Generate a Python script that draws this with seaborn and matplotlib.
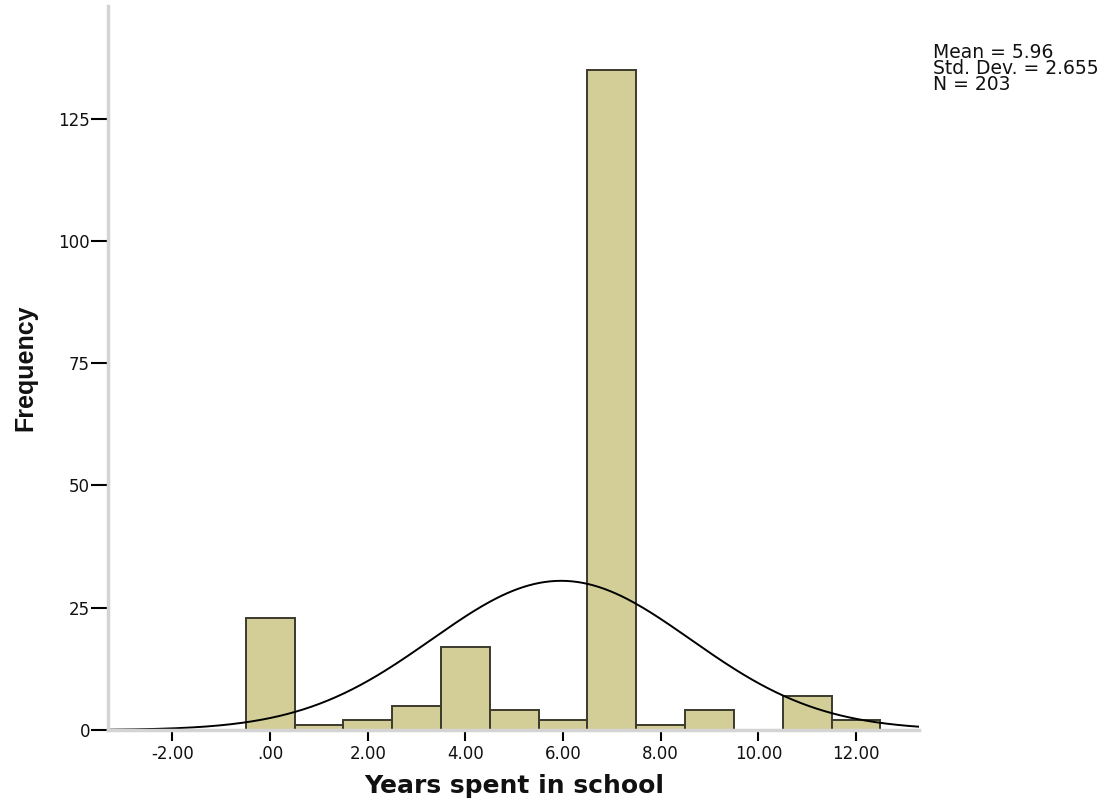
import matplotlib
matplotlib.use("Agg")
import matplotlib.pyplot as plt
import numpy as np
import pandas as pd
import seaborn as sns

years = [0, 1, 2, 3, 4, 5, 6, 7, 8, 9, 10, 11, 12]
counts = [23, 1, 2, 5, 17, 4, 2, 135, 1, 4, 0, 7, 2]
xticks = [-2, 0, 2, 4, 6, 8, 10, 12]
xticklabels = ["-2.00", ".00", "2.00", "4.00", "6.00", "8.00", "10.00", "12.00"]
yticks = [0, 25, 50, 75, 100, 125]

mean = 5.96
sd = 2.655
n = 203

sns.set_style("white")
plt.rcParams['font.family'] = ['DejaVu Sans']

df = pd.DataFrame({"years": years, "count": counts})

fig = plt.figure(figsize=(11.07, 8.08), dpi=100)
ax = fig.add_axes([0.0976, 0.0965, 0.733, 0.896])

sns.histplot(data=df, x="years", weights="count", discrete=True,
             color="#d3ce97", edgecolor="#3b3a2c", linewidth=1.4, alpha=1, ax=ax)

# fitted normal curve (bin width 1)
xs = np.linspace(-3.32, 13.3, 300)
ys = n / (sd * np.sqrt(2 * np.pi)) * np.exp(-0.5 * ((xs - mean) / sd) ** 2)
sns.lineplot(x=xs, y=ys, color="black", linewidth=1.4, ax=ax)

ax.set_xlim(-3.32, 13.3)
ax.set_ylim(0, 148)
ax.set_xticks(xticks)
ax.set_xticklabels(xticklabels)
ax.set_yticks(yticks)
ax.tick_params(axis="x", bottom=True, direction="out", length=8, width=1.5,
               color="black", labelsize=12, labelcolor="#111111", pad=3)
ax.tick_params(axis="y", left=True, direction="out", length=12, width=1.5,
               color="black", labelsize=12, labelcolor="#111111", pad=1)

for s in ["top", "right"]:
    ax.spines[s].set_visible(False)
for s in ["left", "bottom"]:
    ax.spines[s].set_color("#d4d4d4")
    ax.spines[s].set_linewidth(2.5)

ax.set_xlabel("Years spent in school", fontsize=18, fontweight="bold",
              labelpad=8, color="#111111")
ax.set_ylabel("Frequency", fontsize=18, fontweight="bold", labelpad=15,
              color="#111111", family="Liberation Sans")

fig.text(0.843, 0.947, "Mean = 5.96\nStd. Dev. = 2.655\nN = 203",
         fontsize=13.5, va="top", ha="left", linespacing=0.8, color="#111111")

fig.savefig("out.png", dpi=100)
